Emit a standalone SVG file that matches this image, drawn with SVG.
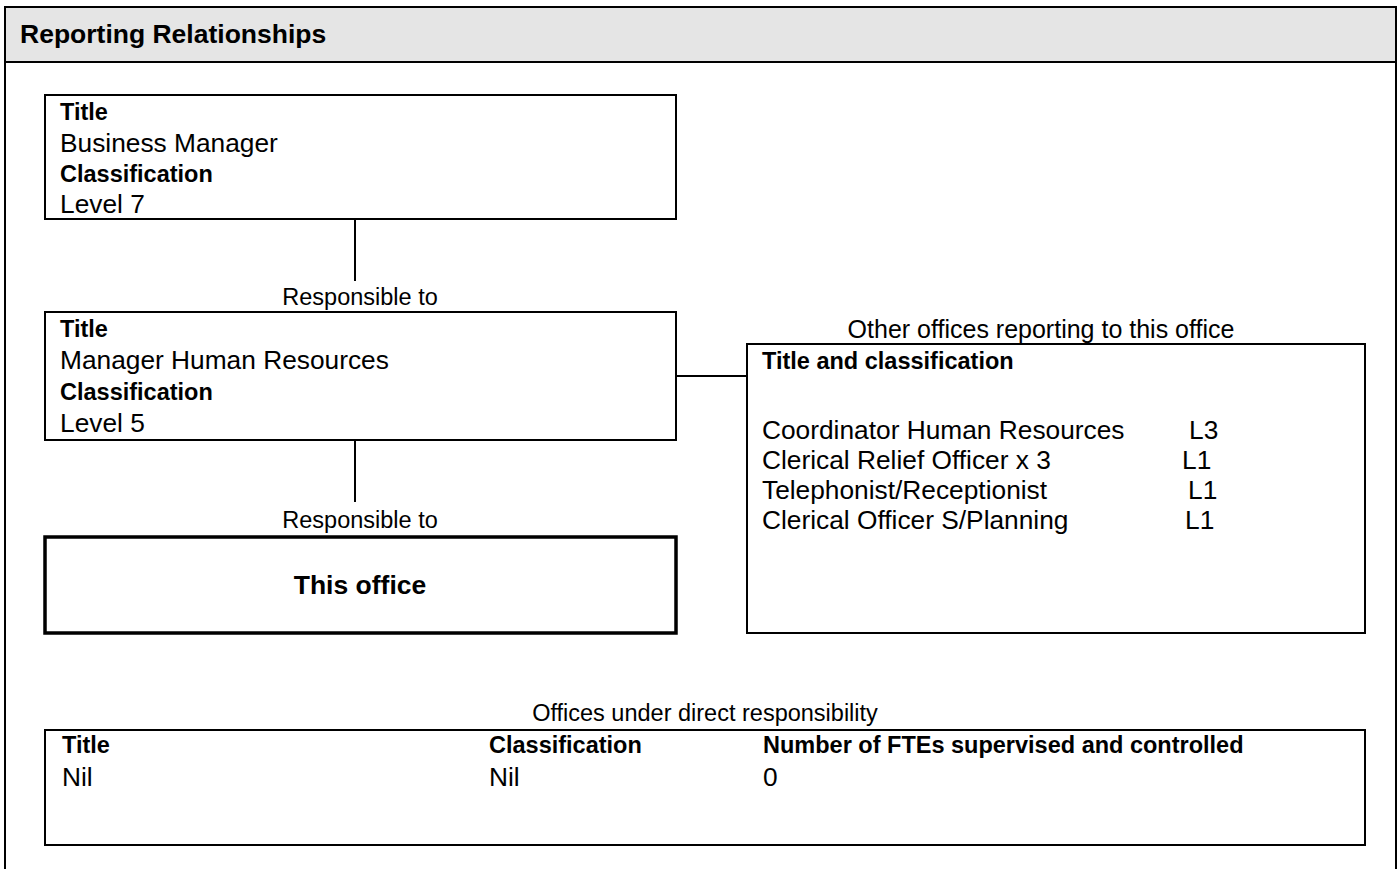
<svg xmlns="http://www.w3.org/2000/svg" width="1400" height="869" viewBox="0 0 1400 869">
<style>
text{font-family:"Liberation Sans",Arial,sans-serif;fill:#000}
.b{font-weight:bold;font-size:23.5px}
.n{font-size:26.3px}
.s{font-size:23.5px}
.h{font-weight:bold;font-size:26.5px}
.box{fill:#fff;stroke:#000;stroke-width:2}
.thick{fill:#fff;stroke:#000;stroke-width:3.5}
.conn line{stroke:#000;stroke-width:2}
</style>
<rect x="0" y="0" width="1400" height="869" fill="#fff"/>
<g id="frame">
<rect x="5" y="7" width="1391" height="55" fill="#e5e5e5"/>
<path d="M5,870 V7 H1396 V870" fill="none" stroke="#000" stroke-width="2"/>
<line x1="5" y1="62" x2="1396" y2="62" stroke="#000" stroke-width="2"/>
<text class="h" x="20" y="43">Reporting Relationships</text>
</g>
<g class="conn" id="connectors">
<line x1="355" y1="219" x2="355" y2="281"/>
<line x1="355" y1="440" x2="355" y2="502"/>
<line x1="676" y1="376" x2="747" y2="376"/>
</g>
<g id="business-manager">
<rect class="box" x="45" y="95" width="631" height="124"/>
<text class="b" x="60" y="120">Title</text>
<text class="n" x="60" y="152">Business Manager</text>
<text class="b" x="60" y="182">Classification</text>
<text class="n" x="60" y="213">Level 7</text>
</g>
<g id="label-responsible-1">
<text class="s" x="360" y="305" text-anchor="middle">Responsible to</text>
</g>
<g id="manager-hr">
<rect class="box" x="45" y="312" width="631" height="128"/>
<text class="b" x="60" y="337">Title</text>
<text class="n" x="60" y="369">Manager Human Resources</text>
<text class="b" x="60" y="400">Classification</text>
<text class="n" x="60" y="432">Level 5</text>
</g>
<g id="label-responsible-2">
<text class="s" x="360" y="528" text-anchor="middle">Responsible to</text>
</g>
<g id="this-office">
<rect class="thick" x="45" y="537" width="631" height="96"/>
<text class="h" x="360" y="594" text-anchor="middle">This office</text>
</g>
<g id="other-offices">
<text class="n" x="1041" y="338" text-anchor="middle" style="font-size:25px">Other offices reporting to this office</text>
<rect class="box" x="747" y="344" width="618" height="289"/>
<text class="b" x="762" y="369">Title and classification</text>
<text class="n" x="762" y="439">Coordinator Human Resources</text>
<text class="n" x="1189" y="439">L3</text>
<text class="n" x="762" y="469">Clerical Relief Officer x 3</text>
<text class="n" x="1182" y="469">L1</text>
<text class="n" x="762" y="499">Telephonist/Receptionist</text>
<text class="n" x="1188" y="499">L1</text>
<text class="n" x="762" y="529">Clerical Officer S/Planning</text>
<text class="n" x="1185" y="529">L1</text>
</g>
<g id="direct-responsibility">
<text class="s" x="705" y="721" text-anchor="middle">Offices under direct responsibility</text>
<rect class="box" x="45" y="730" width="1320" height="115"/>
<text class="b" x="62" y="753">Title</text>
<text class="b" x="489" y="753">Classification</text>
<text class="b" x="763" y="753">Number of FTEs supervised and controlled</text>
<text class="n" x="62" y="786">Nil</text>
<text class="n" x="489" y="786">Nil</text>
<text class="n" x="763" y="786">0</text>
</g>
</svg>
